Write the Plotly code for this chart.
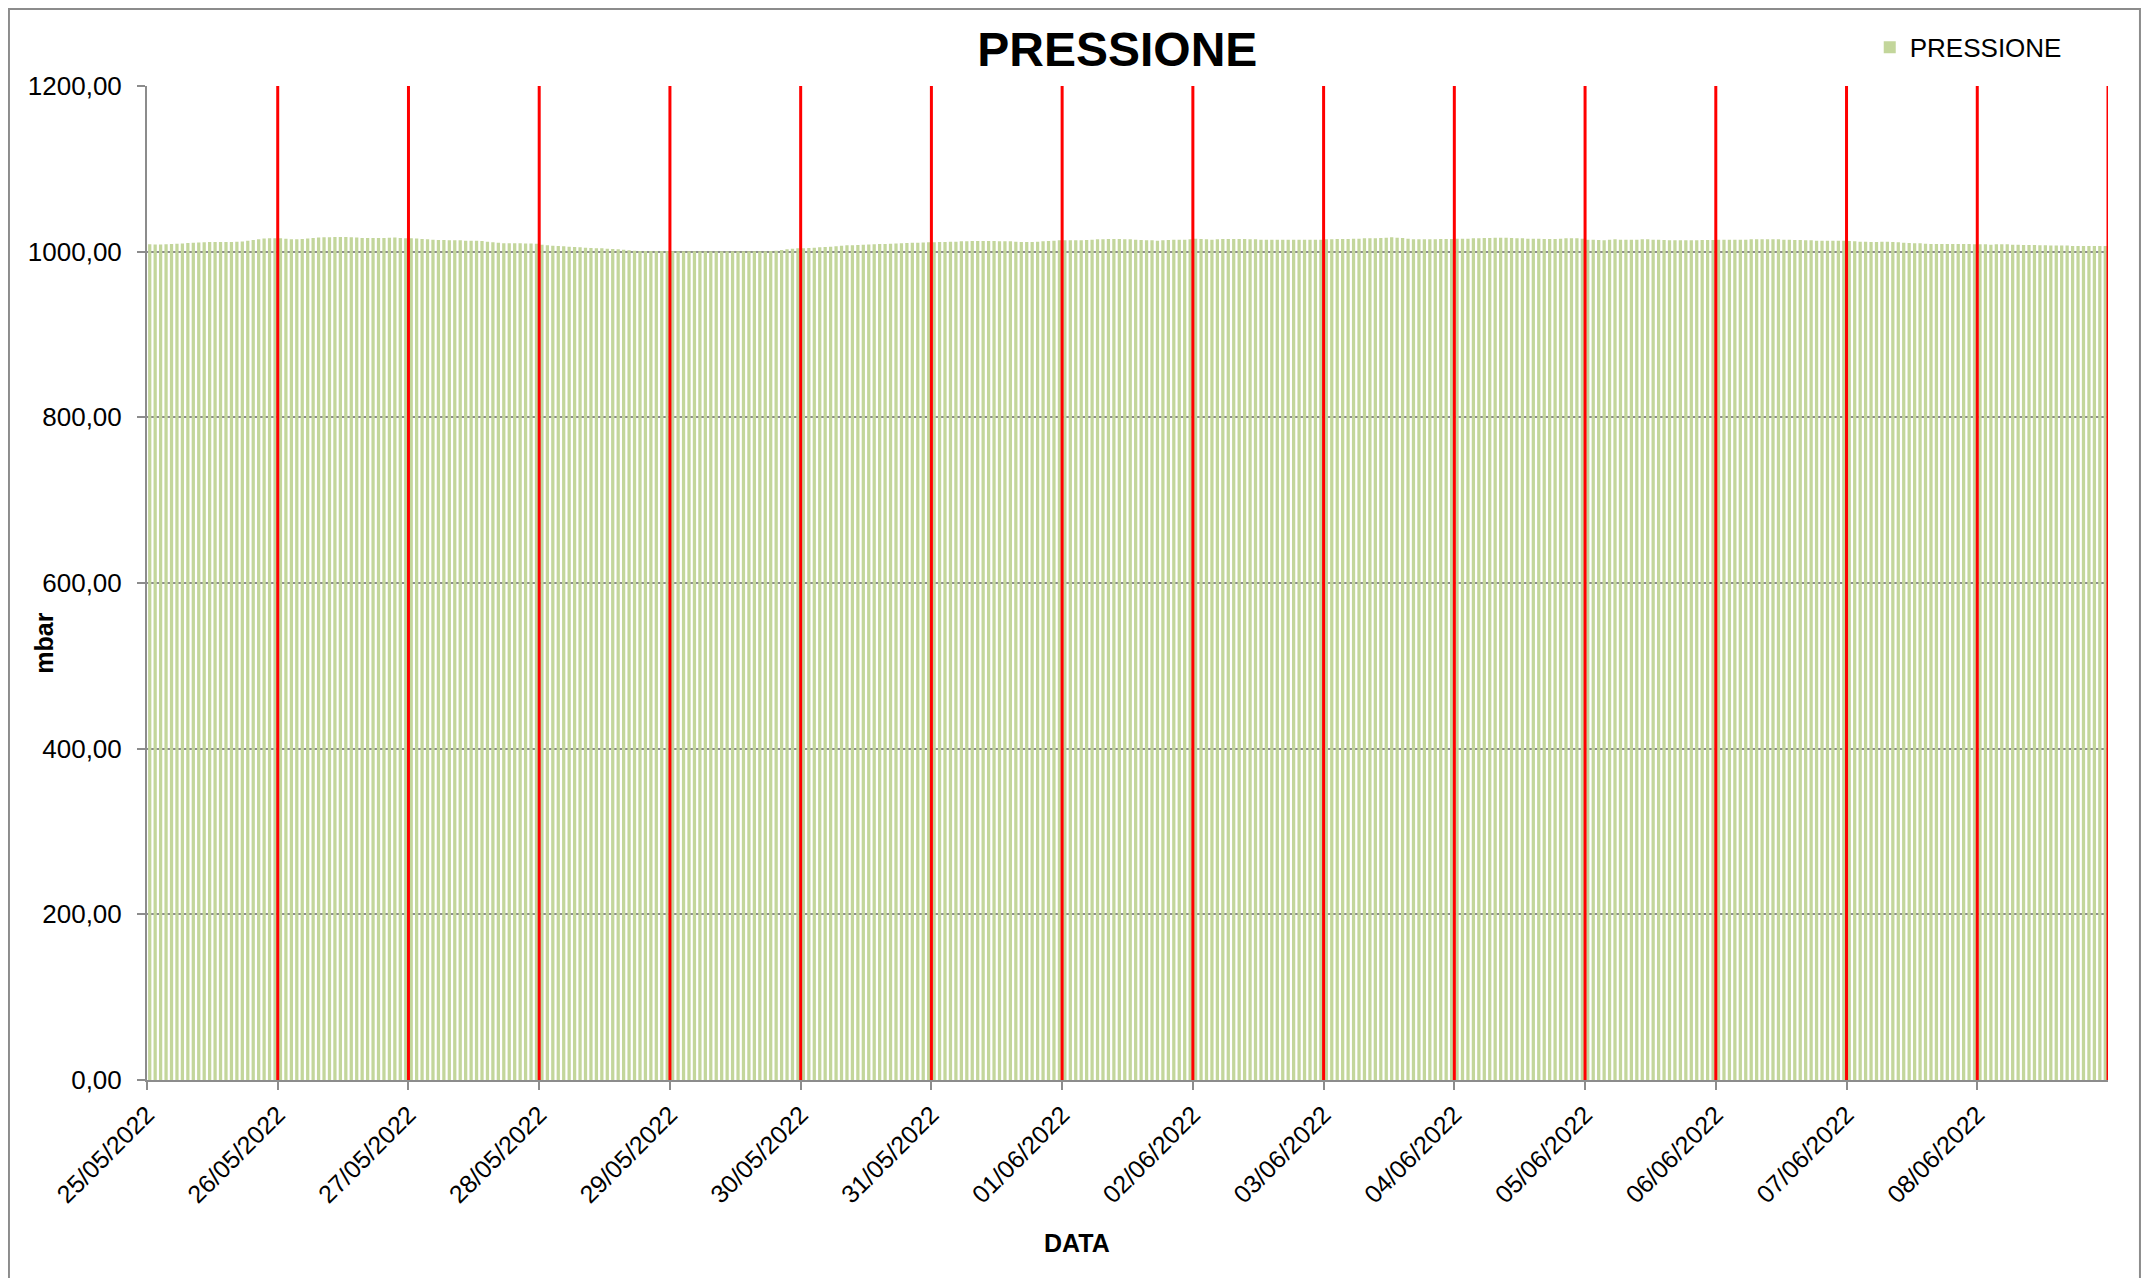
import pandas as pd
import plotly.graph_objects as go

# Hourly pressure readings (mbar), one row per day, 24 values each
day_labels = ["25/05/2022", "26/05/2022", "27/05/2022", "28/05/2022", "29/05/2022",
              "30/05/2022", "31/05/2022", "01/06/2022", "02/06/2022", "03/06/2022",
              "04/06/2022", "05/06/2022", "06/06/2022", "07/06/2022", "08/06/2022"]

d25 = [1008.9, 1008.7, 1008.7, 1008.9, 1009.2, 1009.6, 1010.0, 1010.4, 1010.8, 1011.2, 1011.4, 1011.6,
       1011.6, 1011.8, 1011.6, 1011.8, 1012.0, 1012.4, 1013.2, 1014.0, 1015.0, 1016.0, 1016.1, 1016.1]
d26 = [1016.1, 1015.7, 1015.0, 1015.0, 1015.3, 1016.0, 1016.6, 1017.0, 1017.4, 1017.4, 1017.7, 1017.7,
       1017.7, 1017.4, 1017.0, 1016.6, 1016.6, 1016.6, 1016.4, 1016.6, 1016.9, 1017.0, 1016.6, 1016.1]
d27 = [1016.1, 1015.8, 1015.4, 1014.9, 1014.5, 1014.1, 1014.1, 1013.7, 1013.7, 1013.7, 1013.3, 1013.3,
       1013.3, 1012.9, 1012.1, 1011.3, 1010.9, 1010.1, 1010.1, 1010.1, 1010.1, 1009.9, 1009.9, 1009.7]
d28 = [1008.4, 1007.8, 1007.2, 1006.8, 1006.4, 1006.0, 1005.6, 1005.2, 1004.8, 1004.4, 1004.2, 1004.0,
       1003.6, 1003.2, 1002.8, 1002.4, 1001.6, 1001.0, 1000.8, 1000.8, 1000.8, 1000.8, 1000.8, 1000.8]
d29 = [1000.6, 1000.6, 1000.6, 1000.6, 1000.6, 1000.6, 1000.6, 1000.6, 1000.6, 1000.6, 1000.6, 1000.6,
       1000.6, 1000.6, 1000.6, 1000.6, 1000.6, 1000.6, 1000.8, 1001.2, 1002.0, 1002.8, 1003.6, 1004.0]
d30 = [1004.0, 1004.4, 1004.8, 1005.2, 1005.6, 1006.0, 1006.6, 1007.2, 1007.6, 1007.8, 1008.0, 1008.4,
       1008.8, 1009.0, 1009.2, 1009.3, 1009.6, 1010.0, 1010.2, 1010.4, 1010.7, 1010.9, 1011.1, 1011.3]
d31 = [1011.3, 1011.7, 1011.7, 1012.1, 1012.1, 1012.5, 1012.5, 1012.9, 1012.9, 1012.9, 1012.9, 1012.9,
       1012.5, 1012.5, 1012.5, 1012.1, 1011.7, 1011.7, 1011.7, 1012.1, 1012.5, 1012.9, 1013.3, 1013.7]
d01 = [1013.7, 1013.7, 1013.7, 1013.7, 1014.1, 1014.5, 1014.9, 1015.1, 1015.3, 1015.3, 1015.3, 1015.1,
       1014.9, 1014.5, 1014.1, 1013.7, 1013.7, 1013.3, 1013.7, 1014.1, 1014.5, 1014.5, 1014.5, 1014.9]
d02 = [1015.7, 1015.3, 1014.9, 1014.5, 1014.9, 1015.3, 1015.3, 1015.3, 1015.3, 1015.3, 1014.9, 1014.9,
       1014.5, 1014.5, 1014.5, 1014.5, 1014.5, 1014.5, 1014.5, 1014.5, 1014.5, 1014.5, 1014.5, 1014.5]
d03 = [1014.9, 1014.9, 1015.3, 1015.3, 1015.3, 1015.7, 1015.7, 1016.1, 1016.1, 1016.1, 1016.5, 1016.9,
       1017.3, 1016.9, 1016.5, 1015.7, 1014.9, 1014.9, 1014.9, 1014.9, 1014.9, 1015.3, 1015.3, 1015.3]
d04 = [1015.7, 1015.7, 1015.7, 1016.1, 1016.1, 1016.5, 1016.5, 1016.9, 1016.9, 1016.9, 1016.5, 1016.1,
       1016.1, 1015.7, 1015.7, 1015.7, 1015.3, 1015.3, 1015.3, 1015.7, 1016.1, 1016.1, 1016.1, 1015.7]
d05 = [1014.5, 1014.5, 1014.1, 1013.7, 1014.5, 1014.9, 1014.5, 1014.5, 1014.5, 1014.5, 1014.9, 1014.9,
       1014.5, 1014.5, 1014.1, 1013.7, 1013.7, 1013.7, 1013.7, 1013.7, 1013.7, 1014.1, 1014.1, 1014.1]
d06 = [1014.5, 1014.5, 1014.5, 1014.5, 1014.5, 1014.5, 1014.9, 1014.9, 1014.9, 1014.9, 1014.9, 1014.9,
       1014.5, 1014.5, 1014.1, 1014.1, 1013.7, 1013.7, 1013.3, 1013.3, 1013.3, 1013.3, 1013.3, 1013.3]
d07 = [1012.9, 1012.5, 1012.1, 1012.1, 1011.7, 1011.7, 1012.1, 1012.1, 1011.7, 1011.3, 1010.9, 1010.5,
       1010.1, 1010.1, 1009.7, 1009.3, 1009.3, 1009.3, 1009.3, 1009.3, 1009.3, 1009.3, 1009.3, 1008.9]
d08 = [1008.9, 1008.9, 1008.5, 1008.9, 1008.9, 1008.9, 1008.5, 1008.5, 1008.1, 1008.1, 1008.1, 1007.7,
       1007.7, 1007.3, 1007.3, 1007.3, 1007.3, 1006.9, 1006.9, 1006.9, 1006.9, 1006.9, 1006.9, 1006.9]

pressione = d25 + d26 + d27 + d28 + d29 + d30 + d31 + d01 + d02 + d03 + d04 + d05 + d06 + d07 + d08

start = pd.Timestamp("2022-05-25 00:00")
times = pd.date_range(start + pd.Timedelta(minutes=30), periods=len(pressione), freq="h")
day_ticks = pd.date_range(start, periods=len(day_labels), freq="D")
day_bounds = pd.date_range(start + pd.Timedelta(days=1), periods=len(day_labels), freq="D")

FONT = "Liberation Sans, Arial, sans-serif"
GRAY = "#8c8c8c"

W, H = 2141, 1270
ML, MR, MT, MB = 139, 41, 78, 198

fig = go.Figure()
fig.add_trace(go.Bar(
    x=times, y=pressione, name="PRESSIONE",
    marker=dict(color="#c3d69b", line=dict(width=0)),
    width=3600000 * 0.6,
))

shapes = []
for d in day_bounds:
    shapes.append(dict(type="line", xref="x", yref="paper", x0=d, x1=d, y0=0, y1=1,
                       line=dict(color="#ff0000", width=3), layer="above"))
# outer chart frame
shapes.append(dict(type="rect", xref="paper", yref="paper",
                   x0=-0.0704, x1=1.0163, y0=-0.25, y1=1.0775,
                   line=dict(color=GRAY, width=2), layer="below"))

fig.update_layout(
    width=W, height=H,
    margin=dict(l=ML, r=MR, t=MT, b=MB),
    paper_bgcolor="white", plot_bgcolor="white",
    separators=",.",
    font=dict(family=FONT, size=25, color="black"),
    title=dict(text="<b>PRESSIONE</b>", x=0.4948, xref="paper", xanchor="center",
               y=1 - 41 / H, yanchor="middle",
               font=dict(family=FONT, size=48, color="black")),
    showlegend=True,
    legend=dict(x=0.8785, y=1.039, xanchor="left", yanchor="middle",
                font=dict(family=FONT, size=26, color="black"),
                bgcolor="rgba(0,0,0,0)", itemwidth=30),
    bargap=0.4,
    shapes=shapes,
    annotations=[
        dict(text="<b>mbar</b>", xref="paper", yref="paper", x=-0.0525, y=0.439,
             textangle=-90, showarrow=False, font=dict(family=FONT, size=25, color="black"),
             xanchor="center", yanchor="middle"),
        dict(text="<b>DATA</b>", xref="paper", yref="paper", x=0.474, y=-0.164,
             showarrow=False, font=dict(family=FONT, size=25, color="black"),
             xanchor="center", yanchor="middle"),
    ],
)

fig.update_xaxes(
    type="date",
    range=[start, start + pd.Timedelta(days=len(day_labels))],
    tickvals=day_ticks, ticktext=day_labels, tickangle=-45,
    ticks="outside", ticklen=8, tickwidth=2, tickcolor=GRAY,
    showline=True, linecolor=GRAY, linewidth=2,
    showgrid=False, zeroline=False,
    tickfont=dict(family=FONT, size=25, color="black"),
)
fig.update_yaxes(
    range=[0, 1200], dtick=200, tick0=0, tickformat=".2f",
    ticks="outside", ticklen=8, tickwidth=2, tickcolor=GRAY,
    ticklabelstandoff=10,
    showline=True, linecolor=GRAY, linewidth=2,
    showgrid=True, gridcolor=GRAY, gridwidth=2, zeroline=False,
    tickfont=dict(family=FONT, size=26, color="black"),
)

fig.write_html("out.html")
